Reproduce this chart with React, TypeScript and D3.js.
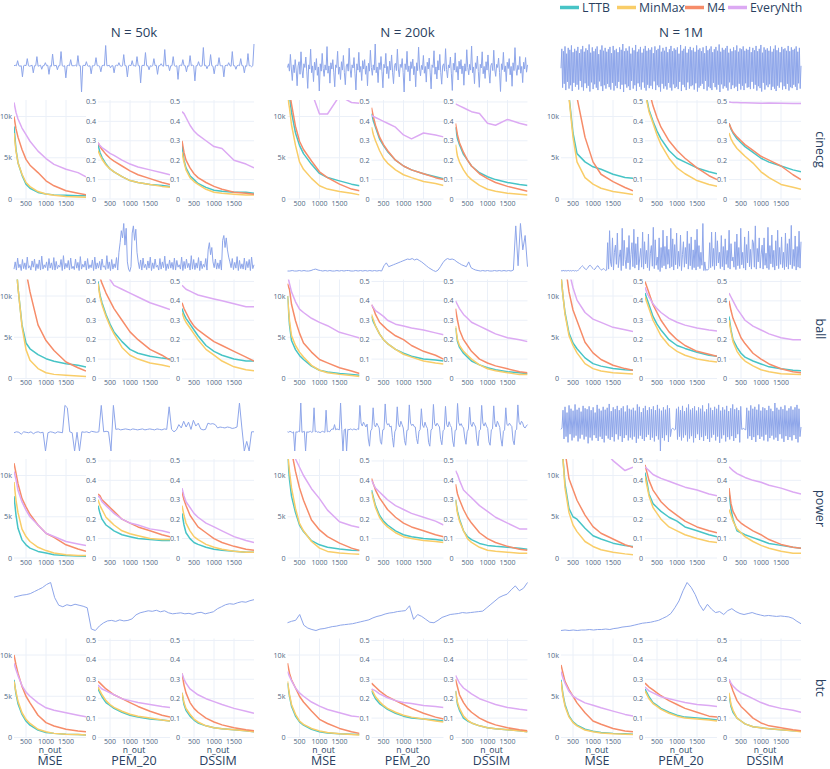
import React from "react";
import * as d3 from "d3";

// ---------- categories / labels ----------
const N_OUT = [200, 250, 300, 400, 500, 600, 800, 1000, 1200, 1500, 1800, 2000];
const ALGOS = ["LTTB", "MinMax", "M4", "EveryNth"];
const ALGO_COLORS = ["#47c4c6", "#f9cd68", "#f68c69", "#dca9f3"];
const SIZES = ["N = 50k", "N = 200k", "N = 1M"];
const DATASETS = ["cinecg", "ball", "power", "btc"];
const METRICS = ["MSE", "PEM_20", "DSSIM"];
const MSE_TICKS = [0, 5, 10];
const RATIO_TICKS = [0, 0.1, 0.2, 0.3, 0.4, 0.5];
const X_TICKS = [500, 1000, 1500];

// ---------- metric curves (order: LTTB, MinMax, M4, EveryNth); MSE in thousands ----------
const CINECG_50K_MSE = [
  [8.8, 6.0, 4.4, 2.9, 1.8, 1.3, 0.8, 0.6, 0.5, 0.45, 0.4, 0.4],
  [8.0, 5.8, 4.4, 3.0, 2.0, 1.5, 0.9, 0.6, 0.45, 0.3, 0.25, 0.2],
  [10.0, 8.5, 7.5, 6.0, 4.8, 4.1, 3.2, 2.2, 1.6, 1.0, 0.7, 0.5],
  [11.7, 10.5, 9.7, 8.6, 7.8, 7.0, 5.8, 4.9, 4.2, 3.6, 3.2, 2.7],
];
const CINECG_50K_PEM = [
  [0.28, 0.24, 0.215, 0.18, 0.155, 0.14, 0.115, 0.095, 0.085, 0.075, 0.07, 0.065],
  [0.25, 0.225, 0.205, 0.175, 0.155, 0.14, 0.115, 0.095, 0.085, 0.075, 0.065, 0.06],
  [0.29, 0.27, 0.255, 0.23, 0.21, 0.195, 0.17, 0.145, 0.125, 0.105, 0.085, 0.075],
  [0.29, 0.275, 0.265, 0.25, 0.235, 0.225, 0.2, 0.18, 0.165, 0.15, 0.135, 0.125],
];
const CINECG_50K_DSSIM = [
  [0.28, 0.2, 0.16, 0.12, 0.1, 0.08, 0.06, 0.045, 0.04, 0.035, 0.035, 0.03],
  [0.24, 0.19, 0.15, 0.11, 0.09, 0.075, 0.05, 0.035, 0.03, 0.025, 0.02, 0.02],
  [0.3, 0.24, 0.2, 0.16, 0.13, 0.11, 0.085, 0.065, 0.05, 0.035, 0.03, 0.025],
  [0.45, 0.44, 0.42, 0.38, 0.35, 0.33, 0.3, 0.27, 0.26, 0.2, 0.18, 0.16],
];
const CINECG_200K_MSE = [
  [14, 12.5, 10.5, 8.0, 6.5, 5.5, 4.2, 3.1, 2.6, 2.2, 1.8, 1.6],
  [12.5, 11, 9.0, 6.5, 4.5, 3.6, 2.5, 1.6, 1.2, 0.9, 0.7, 0.5],
  [15, 13, 11.5, 8.8, 7.0, 6.0, 4.6, 3.3, 2.6, 1.8, 1.2, 1.0],
  [20, 18, 17, 16, 15, 14, 13, 10.3, 10.3, 12.5, 11.7, 11.6],
];
const CINECG_200K_PEM = [
  [0.44, 0.4, 0.37, 0.31, 0.275, 0.245, 0.2, 0.17, 0.15, 0.13, 0.115, 0.105],
  [0.37, 0.33, 0.3, 0.25, 0.21, 0.185, 0.15, 0.125, 0.11, 0.09, 0.08, 0.07],
  [0.47, 0.42, 0.38, 0.32, 0.28, 0.25, 0.2, 0.17, 0.15, 0.13, 0.11, 0.1],
  [0.43, 0.425, 0.42, 0.41, 0.4, 0.39, 0.37, 0.33, 0.31, 0.34, 0.33, 0.32],
];
const CINECG_200K_DSSIM = [
  [0.37, 0.31, 0.28, 0.23, 0.2, 0.17, 0.135, 0.115, 0.1, 0.085, 0.075, 0.07],
  [0.28, 0.22, 0.19, 0.15, 0.12, 0.1, 0.07, 0.05, 0.04, 0.03, 0.025, 0.02],
  [0.39, 0.33, 0.29, 0.24, 0.2, 0.17, 0.13, 0.105, 0.085, 0.065, 0.05, 0.04],
  [0.49, 0.485, 0.48, 0.47, 0.46, 0.45, 0.44, 0.39, 0.38, 0.41, 0.39, 0.38],
];
const CINECG_1M_MSE = [
  [30, 22, 17, 12.5, 8.0, 5.5, 4.5, 3.9, 3.6, 3.0, 2.6, 2.5],
  [30, 22, 17, 12.3, 7.5, 4.5, 2.6, 1.8, 1.3, 0.9, 0.7, 0.55],
  [40, 32, 27, 20, 15, 12.3, 7.5, 4.5, 3.0, 2.1, 1.4, 1.0],
  [50, 48, 46, 45, 44, 43, 42, 41, 40, 39, 38, 37],
];
const CINECG_1M_PEM = [
  [0.56, 0.51, 0.46, 0.4, 0.35, 0.31, 0.25, 0.21, 0.19, 0.16, 0.14, 0.13],
  [0.55, 0.5, 0.45, 0.39, 0.33, 0.28, 0.21, 0.16, 0.13, 0.095, 0.075, 0.065],
  [0.75, 0.65, 0.56, 0.48, 0.42, 0.37, 0.3, 0.25, 0.21, 0.16, 0.12, 0.1],
  [0.8, 0.78, 0.76, 0.74, 0.72, 0.7, 0.68, 0.66, 0.64, 0.62, 0.6, 0.58],
];
const CINECG_1M_DSSIM = [
  [0.39, 0.36, 0.34, 0.31, 0.29, 0.27, 0.24, 0.21, 0.19, 0.17, 0.15, 0.14],
  [0.34, 0.31, 0.29, 0.26, 0.24, 0.22, 0.185, 0.14, 0.11, 0.075, 0.06, 0.05],
  [0.39, 0.365, 0.345, 0.32, 0.3, 0.28, 0.25, 0.22, 0.2, 0.17, 0.125, 0.1],
  [0.5, 0.498, 0.497, 0.497, 0.496, 0.496, 0.495, 0.493, 0.494, 0.493, 0.492, 0.492],
];

const BALL_50K_MSE = [
  [20, 14, 11, 6.5, 4.3, 3.6, 2.9, 2.4, 2.1, 1.8, 1.6, 1.4],
  [20, 14, 11, 6.3, 3.5, 2.2, 1.2, 0.7, 0.5, 0.4, 0.3, 0.25],
  [40, 30, 25, 18, 13, 10.5, 6.5, 4.6, 3.4, 2.0, 1.3, 0.9],
  [60, 55, 50, 45, 40, 36, 32, 28, 25, 22, 20, 18],
];
const BALL_50K_PEM = [
  [0.5, 0.43, 0.39, 0.33, 0.28, 0.24, 0.19, 0.15, 0.13, 0.115, 0.105, 0.1],
  [0.49, 0.42, 0.38, 0.32, 0.27, 0.23, 0.16, 0.12, 0.1, 0.08, 0.07, 0.06],
  [0.56, 0.52, 0.49, 0.44, 0.4, 0.36, 0.3, 0.24, 0.2, 0.15, 0.12, 0.095],
  [0.65, 0.6, 0.58, 0.55, 0.51, 0.48, 0.46, 0.44, 0.42, 0.39, 0.37, 0.355],
];
const BALL_50K_DSSIM = [
  [0.36, 0.33, 0.31, 0.28, 0.25, 0.22, 0.17, 0.14, 0.12, 0.1, 0.09, 0.09],
  [0.34, 0.31, 0.29, 0.26, 0.23, 0.2, 0.15, 0.12, 0.09, 0.06, 0.045, 0.04],
  [0.39, 0.36, 0.34, 0.3, 0.27, 0.25, 0.22, 0.19, 0.17, 0.14, 0.11, 0.09],
  [0.48, 0.47, 0.46, 0.45, 0.44, 0.43, 0.42, 0.41, 0.4, 0.385, 0.37, 0.37],
];
const BALL_200K_MSE = [
  [10, 6.5, 4.6, 3.5, 2.8, 2.3, 1.5, 1.0, 0.8, 0.6, 0.5, 0.4],
  [10, 7.0, 5.2, 4.0, 3.2, 2.6, 1.6, 1.0, 0.7, 0.5, 0.35, 0.25],
  [11.5, 10.8, 9.0, 7.0, 5.5, 4.3, 3.2, 2.3, 1.9, 1.3, 0.9, 0.6],
  [12.5, 11.5, 10.5, 9.3, 8.4, 8.0, 7.3, 6.8, 6.4, 5.6, 5.2, 4.9],
];
const BALL_200K_PEM = [
  [0.32, 0.29, 0.27, 0.23, 0.2, 0.18, 0.15, 0.13, 0.115, 0.1, 0.095, 0.09],
  [0.33, 0.3, 0.27, 0.23, 0.2, 0.18, 0.15, 0.125, 0.11, 0.09, 0.08, 0.075],
  [0.38, 0.36, 0.33, 0.29, 0.27, 0.25, 0.22, 0.2, 0.17, 0.14, 0.12, 0.1],
  [0.38, 0.365, 0.35, 0.335, 0.32, 0.3, 0.28, 0.27, 0.26, 0.25, 0.235, 0.225],
];
const BALL_200K_DSSIM = [
  [0.26, 0.19, 0.16, 0.13, 0.11, 0.09, 0.07, 0.055, 0.045, 0.035, 0.03, 0.025],
  [0.27, 0.2, 0.17, 0.14, 0.12, 0.1, 0.07, 0.05, 0.04, 0.03, 0.02, 0.02],
  [0.36, 0.3, 0.25, 0.2, 0.17, 0.14, 0.1, 0.08, 0.065, 0.05, 0.035, 0.03],
  [0.4, 0.38, 0.36, 0.33, 0.31, 0.29, 0.27, 0.25, 0.23, 0.21, 0.2, 0.19],
];
const BALL_1M_MSE = [
  [12.5, 10, 8.0, 5.5, 4.3, 3.6, 2.5, 1.8, 1.5, 1.2, 1.05, 1.0],
  [12.5, 10, 7.8, 5.2, 4.0, 3.1, 1.8, 1.2, 0.9, 0.7, 0.6, 0.55],
  [25, 18, 14, 10.5, 8.3, 7.0, 4.4, 3.1, 2.3, 1.6, 1.2, 1.0],
  [20, 17, 15, 13, 11.0, 9.5, 8.0, 7.2, 6.8, 6.2, 5.9, 5.7],
];
const BALL_1M_PEM = [
  [0.44, 0.41, 0.38, 0.32, 0.28, 0.25, 0.2, 0.17, 0.155, 0.135, 0.12, 0.115],
  [0.42, 0.39, 0.36, 0.3, 0.26, 0.22, 0.17, 0.14, 0.12, 0.1, 0.09, 0.085],
  [0.5, 0.47, 0.44, 0.38, 0.34, 0.3, 0.24, 0.2, 0.17, 0.14, 0.125, 0.115],
  [0.47, 0.44, 0.42, 0.385, 0.36, 0.34, 0.31, 0.29, 0.275, 0.26, 0.25, 0.245],
];
const BALL_1M_DSSIM = [
  [0.32, 0.25, 0.2, 0.16, 0.13, 0.11, 0.09, 0.075, 0.06, 0.05, 0.042, 0.04],
  [0.3, 0.24, 0.19, 0.14, 0.11, 0.09, 0.065, 0.045, 0.035, 0.025, 0.022, 0.02],
  [0.4, 0.35, 0.31, 0.26, 0.21, 0.18, 0.13, 0.1, 0.075, 0.05, 0.035, 0.03],
  [0.44, 0.42, 0.4, 0.36, 0.33, 0.3, 0.27, 0.25, 0.23, 0.21, 0.2, 0.2],
];

const POWER_50K_MSE = [
  [7.5, 5.2, 3.6, 2.2, 1.6, 1.2, 0.8, 0.6, 0.4, 0.3, 0.25, 0.2],
  [9.2, 7.0, 5.5, 3.5, 2.6, 2.0, 1.3, 0.9, 0.6, 0.4, 0.3, 0.3],
  [11.5, 10.3, 9.0, 7.2, 6.2, 5.3, 4.0, 3.0, 2.5, 1.6, 1.1, 0.8],
  [10.5, 9.5, 8.2, 6.8, 5.8, 5.0, 4.0, 3.0, 2.6, 2.0, 1.7, 1.5],
];
const POWER_50K_PEM = [
  [0.27, 0.23, 0.2, 0.17, 0.155, 0.14, 0.12, 0.11, 0.1, 0.095, 0.09, 0.09],
  [0.3, 0.27, 0.25, 0.21, 0.19, 0.17, 0.14, 0.125, 0.115, 0.1, 0.095, 0.095],
  [0.33, 0.32, 0.3, 0.28, 0.26, 0.24, 0.2, 0.18, 0.16, 0.14, 0.12, 0.11],
  [0.32, 0.31, 0.29, 0.27, 0.25, 0.23, 0.2, 0.18, 0.17, 0.15, 0.14, 0.13],
];
const POWER_50K_DSSIM = [
  [0.23, 0.17, 0.13, 0.1, 0.08, 0.07, 0.055, 0.045, 0.04, 0.035, 0.03, 0.03],
  [0.27, 0.22, 0.18, 0.14, 0.11, 0.095, 0.07, 0.055, 0.045, 0.035, 0.03, 0.03],
  [0.34, 0.3, 0.27, 0.22, 0.19, 0.16, 0.13, 0.1, 0.08, 0.06, 0.045, 0.04],
  [0.36, 0.32, 0.29, 0.26, 0.23, 0.21, 0.18, 0.16, 0.14, 0.11, 0.09, 0.08],
];
const POWER_200K_MSE = [
  [12.5, 9.5, 7.5, 5.5, 4.0, 3.2, 2.1, 1.6, 1.3, 1.1, 0.95, 0.9],
  [13, 10.5, 8.5, 6.0, 4.2, 3.3, 2.0, 1.2, 0.8, 0.6, 0.5, 0.45],
  [20, 16, 13, 10.5, 8.5, 7.0, 4.6, 3.4, 2.6, 1.8, 1.2, 0.9],
  [20, 16, 13.5, 12, 11, 10, 8.4, 7.2, 5.8, 4.4, 3.9, 3.7],
];
const POWER_200K_PEM = [
  [0.35, 0.31, 0.27, 0.22, 0.19, 0.17, 0.14, 0.12, 0.11, 0.1, 0.095, 0.09],
  [0.34, 0.3, 0.26, 0.21, 0.18, 0.16, 0.13, 0.11, 0.1, 0.09, 0.085, 0.08],
  [0.41, 0.38, 0.35, 0.31, 0.28, 0.25, 0.21, 0.18, 0.16, 0.14, 0.12, 0.11],
  [0.4, 0.38, 0.36, 0.34, 0.32, 0.3, 0.27, 0.25, 0.23, 0.21, 0.19, 0.17],
];
const POWER_200K_DSSIM = [
  [0.3, 0.24, 0.2, 0.14, 0.11, 0.095, 0.075, 0.065, 0.06, 0.055, 0.05, 0.045],
  [0.3, 0.23, 0.19, 0.14, 0.1, 0.08, 0.055, 0.04, 0.035, 0.03, 0.025, 0.025],
  [0.38, 0.33, 0.3, 0.25, 0.21, 0.18, 0.13, 0.1, 0.08, 0.06, 0.045, 0.04],
  [0.45, 0.43, 0.4, 0.35, 0.33, 0.31, 0.27, 0.24, 0.21, 0.18, 0.15, 0.15],
];
const POWER_1M_MSE = [
  [16, 12, 9.0, 6.0, 5.0, 4.7, 3.6, 2.7, 2.3, 1.8, 1.5, 1.4],
  [16, 12, 8.5, 5.5, 4.0, 3.2, 2.0, 1.4, 1.0, 0.7, 0.5, 0.4],
  [25, 17, 13, 9.6, 8.3, 7.0, 5.2, 3.8, 3.0, 2.3, 1.6, 1.3],
  [40, 35, 30, 27, 24, 21, 17, 15, 13.5, 11.8, 10.6, 11.0],
];
const POWER_1M_PEM = [
  [0.44, 0.39, 0.33, 0.28, 0.26, 0.24, 0.21, 0.19, 0.16, 0.14, 0.12, 0.11],
  [0.42, 0.37, 0.32, 0.26, 0.23, 0.2, 0.16, 0.14, 0.12, 0.1, 0.085, 0.08],
  [0.48, 0.44, 0.4, 0.35, 0.32, 0.29, 0.25, 0.22, 0.19, 0.16, 0.14, 0.13],
  [0.47, 0.46, 0.45, 0.43, 0.42, 0.41, 0.395, 0.38, 0.365, 0.35, 0.33, 0.32],
];
const POWER_1M_DSSIM = [
  [0.34, 0.25, 0.2, 0.14, 0.13, 0.12, 0.105, 0.09, 0.075, 0.065, 0.055, 0.05],
  [0.25, 0.22, 0.19, 0.15, 0.13, 0.11, 0.085, 0.065, 0.05, 0.035, 0.025, 0.025],
  [0.36, 0.28, 0.24, 0.2, 0.18, 0.165, 0.14, 0.12, 0.095, 0.07, 0.055, 0.05],
  [0.47, 0.46, 0.45, 0.435, 0.425, 0.415, 0.4, 0.39, 0.375, 0.36, 0.34, 0.33],
];

const BTC_50K_MSE = [
  [7.0, 5.3, 4.1, 2.8, 2.0, 1.5, 0.9, 0.6, 0.5, 0.4, 0.35, 0.3],
  [6.8, 5.5, 4.4, 3.0, 2.2, 1.7, 1.0, 0.7, 0.5, 0.4, 0.35, 0.3],
  [10, 8.8, 7.8, 6.2, 5.0, 4.2, 2.7, 1.8, 1.4, 1.0, 0.8, 0.7],
  [9.0, 8.2, 7.5, 6.3, 5.5, 5.0, 4.2, 3.6, 3.3, 3.0, 2.7, 2.5],
];
const BTC_50K_PEM = [
  [0.25, 0.23, 0.21, 0.18, 0.165, 0.15, 0.13, 0.115, 0.105, 0.095, 0.09, 0.085],
  [0.26, 0.24, 0.22, 0.19, 0.17, 0.155, 0.135, 0.12, 0.11, 0.1, 0.09, 0.085],
  [0.29, 0.28, 0.27, 0.25, 0.235, 0.22, 0.2, 0.18, 0.16, 0.135, 0.115, 0.105],
  [0.27, 0.26, 0.25, 0.24, 0.23, 0.22, 0.2, 0.19, 0.18, 0.17, 0.16, 0.155],
];
const BTC_50K_DSSIM = [
  [0.23, 0.17, 0.14, 0.11, 0.09, 0.075, 0.06, 0.05, 0.045, 0.04, 0.035, 0.03],
  [0.23, 0.18, 0.15, 0.12, 0.095, 0.08, 0.06, 0.05, 0.045, 0.04, 0.035, 0.03],
  [0.33, 0.27, 0.23, 0.18, 0.15, 0.13, 0.1, 0.08, 0.065, 0.05, 0.04, 0.035],
  [0.33, 0.3, 0.28, 0.25, 0.235, 0.22, 0.2, 0.185, 0.17, 0.15, 0.135, 0.125],
];
const BTC_200K_MSE = [
  [6.6, 5.0, 3.8, 2.6, 1.9, 1.5, 1.0, 0.7, 0.55, 0.45, 0.4, 0.35],
  [6.8, 5.2, 4.0, 2.8, 2.0, 1.6, 1.1, 0.8, 0.6, 0.45, 0.35, 0.3],
  [9.0, 7.8, 7.0, 6.0, 5.0, 4.3, 3.2, 2.2, 1.7, 1.1, 0.7, 0.5],
  [8.0, 7.4, 6.9, 6.0, 5.4, 5.0, 4.3, 3.8, 3.4, 3.0, 2.6, 2.5],
];
const BTC_200K_PEM = [
  [0.24, 0.22, 0.2, 0.175, 0.16, 0.145, 0.125, 0.11, 0.1, 0.095, 0.09, 0.085],
  [0.25, 0.23, 0.21, 0.185, 0.165, 0.15, 0.13, 0.115, 0.105, 0.095, 0.085, 0.08],
  [0.28, 0.27, 0.26, 0.24, 0.225, 0.21, 0.19, 0.17, 0.15, 0.125, 0.105, 0.095],
  [0.25, 0.245, 0.24, 0.225, 0.215, 0.205, 0.19, 0.18, 0.175, 0.165, 0.16, 0.155],
];
const BTC_200K_DSSIM = [
  [0.24, 0.17, 0.14, 0.1, 0.085, 0.075, 0.06, 0.05, 0.045, 0.04, 0.035, 0.03],
  [0.24, 0.18, 0.15, 0.11, 0.09, 0.075, 0.06, 0.05, 0.045, 0.04, 0.035, 0.03],
  [0.3, 0.26, 0.22, 0.18, 0.15, 0.13, 0.1, 0.08, 0.065, 0.05, 0.04, 0.035],
  [0.32, 0.3, 0.28, 0.255, 0.24, 0.225, 0.2, 0.185, 0.17, 0.155, 0.145, 0.14],
];
const BTC_1M_MSE = [
  [7.0, 5.2, 4.0, 2.6, 1.9, 1.5, 1.0, 0.75, 0.6, 0.5, 0.45, 0.4],
  [6.8, 5.0, 3.8, 2.5, 1.8, 1.4, 0.9, 0.7, 0.55, 0.45, 0.4, 0.35],
  [8.8, 7.8, 6.8, 5.8, 5.0, 4.2, 3.0, 2.0, 1.6, 1.1, 0.8, 0.7],
  [8.0, 7.2, 6.6, 5.6, 5.0, 4.7, 4.2, 3.9, 3.6, 3.2, 2.8, 2.6],
];
const BTC_1M_PEM = [
  [0.25, 0.23, 0.21, 0.18, 0.165, 0.15, 0.13, 0.115, 0.105, 0.1, 0.095, 0.09],
  [0.24, 0.22, 0.2, 0.175, 0.16, 0.145, 0.125, 0.11, 0.1, 0.095, 0.09, 0.085],
  [0.28, 0.27, 0.26, 0.245, 0.23, 0.215, 0.19, 0.17, 0.15, 0.13, 0.11, 0.105],
  [0.26, 0.25, 0.24, 0.23, 0.22, 0.21, 0.2, 0.19, 0.18, 0.17, 0.165, 0.16],
];
const BTC_1M_DSSIM = [
  [0.22, 0.16, 0.13, 0.1, 0.085, 0.07, 0.055, 0.05, 0.045, 0.04, 0.035, 0.035],
  [0.23, 0.17, 0.14, 0.1, 0.085, 0.07, 0.055, 0.05, 0.045, 0.04, 0.035, 0.03],
  [0.3, 0.27, 0.24, 0.19, 0.16, 0.14, 0.1, 0.075, 0.06, 0.05, 0.04, 0.035],
  [0.3, 0.28, 0.265, 0.245, 0.23, 0.22, 0.2, 0.18, 0.165, 0.15, 0.14, 0.13],
];

// ---------- raw signal previews (relative units) ----------
const SIG_CINECG_50K = [
  52,53,52,62,52,51,52,30,52,53, 52,66,52,51,52,53,38,52,52,70, 51,52,53,45,52,52,58,52,53,35,
  52,51,75,52,52,53,44,52,52,80, 52,51,52,28,52,53,52,64,52,52, 52,53,51,72,52,52,0,52,53,52,
  60,52,51,52,36,52,52,53,68,52, 52,51,40,52,53,52,92,52,52,53, 48,52,52,38,52,53,52,58,52,51,
  52,74,52,52,30,52,53,52,62,52, 52,51,70,52,52,18,52,53,52,78, 52,52,44,52,51,52,66,52,53,35,
  52,52,56,52,51,84,52,52,53,42, 52,52,70,52,51,52,25,52,53,52, 64,52,52,40,52,51,72,52,53,52,
  22,52,52,60,52,51,52,88,52,53, 46,52,52,74,52,51,36,52,53,52, 68,52,52,52,30,52,53,52,58,52,
  51,80,52,52,45,52,53,52,66,52, 52,38,52,51,76,52,52,50,52,95,
];
const SIG_CINECG_200K = [
  55,62,48,80,52,30,60,45,70,50, 20,58,66,42,85,50,35,62,55,75, 48,15,60,52,90,45,58,28,65,50,
  72,40,56,10,62,48,82,53,38,60, 50,95,44,58,25,64,52,70,46,18, 60,55,86,42,56,32,66,50,78,45,
  22,58,62,48,92,52,36,60,54,74, 44,12,62,50,84,46,57,30,68,52, 70,42,58,20,63,48,88,55,40,60,
  50,100,45,56,26,64,51,76,47,16, 61,54,82,43,57,34,67,50,79,46, 24,59,63,49,90,52,37,61,55,72,
  45,8,62,51,86,47,58,29,66,53, 71,41,57,18,64,49,94,54,39,59, 51,78,44,57,27,65,52,73,46,14,
  60,55,87,42,56,33,68,50,80,45, 23,58,62,48,91,51,35,60,54,75, 44,11,63,50,83,46,57,31,67,52,
  70,43,58,21,62,48,89,55,41,61, 50,96,45,56,24,64,53,77,47,17, 61,54,85,43,57,34,66,50,79,46,
  25,59,63,49,88,52,38,61,55,73, 45,9,62,51,84,47,58,28,65,53, 72,41,57,19,64,49,93,54,40,59,
  51,76,44,57,26,65,52,74,46,60,
];
const SIG_CINECG_1M = [
  50,90,10,85,18,95,5,80,22,92, 8,88,15,97,3,83,20,90,12,86, 16,94,6,81,24,89,11,96,4,84,
  19,91,9,87,14,99,2,82,21,93, 7,85,17,90,10,95,5,79,23,88, 13,97,3,86,15,92,8,84,18,89,
  11,94,6,81,20,96,4,87,14,90, 9,83,22,93,7,88,16,100,1,85, 17,91,10,86,13,95,5,80,24,92,
  8,87,15,98,3,84,19,89,12,94, 6,82,21,90,10,96,4,86,16,91, 9,88,14,93,7,81,23,95,5,87,
  15,90,11,97,2,84,18,92,8,86, 13,94,6,83,20,89,10,96,4,85, 17,91,9,88,12,93,7,80,22,98,
  3,86,16,90,11,95,5,82,21,89, 8,94,13,87,15,92,6,84,19,97, 2,88,10,91,14,85,18,93,7,81,
  24,96,4,87,12,90,9,95,5,83, 20,89,11,94,6,86,16,99,1,84, 17,92,8,88,13,91,10,96,4,82,
  21,90,7,85,15,93,9,87,12,97, 3,84,18,91,6,89,14,95,5,86, 19,90,10,88,11,94,7,83,22,92,
  8,87,16,96,4,85,13,90,9,98, 2,82,20,93,6,88,15,91,11,86, 17,95,5,84,12,90,8,97,3,87,
  14,92,10,83,21,94,6,89,13,91, 7,86,18,96,4,85,11,93,9,88, 16,90,12,95,5,84,19,92,8,55,
];
const SIG_BALL_50K = [
  5,20,3,28,8,15,2,25,6,18, 4,30,7,12,3,22,9,26,2,16, 6,24,3,32,5,14,8,20,2,27,
  7,18,4,29,3,21,6,13,9,25, 2,33,5,17,8,23,3,28,6,11, 4,26,7,19,2,31,5,15,9,22,
  3,27,6,14,8,24,2,30,5,18, 7,21,3,26,9,12,4,33,6,20, 2,25,5,16,8,29,3,40,60,85,
  70,100,55,90,20,5,0,10,80,95, 65,88,40,20,6,24,3,28,8,15, 4,22,7,30,2,18,6,26,9,13,
  3,27,5,20,8,32,2,16,6,24, 7,19,4,28,3,23,9,14,5,30, 2,21,6,26,8,17,3,33,5,25,
  4,18,7,29,2,22,6,15,9,27, 3,45,60,35,50,20,8,26,5,18, 6,24,3,65,75,50,70,45,30,20,
  8,27,4,19,7,31,2,23,6,16, 5,28,3,21,8,25,2,30,6,14,
];
const SIG_BALL_200K = [1,1,2,1,1,2,1,2,1,1,2,4,5,3,2,1,2,1,2,1,1,2,1,2,1,2,2,1,1,2,1,2,1,2,1,2,1,2,1,2,1,12,18,10,12,14,16,18,20,22,24,26,25,27,24,26,23,20,16,12,8,5,2,0,3,10,18,24,27,25,26,24,20,17,14,12,10,20,8,5,3,2,1,2,1,2,1,1,2,1,2,1,2,1,2,1,3,95,12,100,45,75,10];
const SIG_BALL_1M = [
  2,1,2,2,1,2,1,2,2,1, 2,1,2,2,1,2,1,2,3,5, 8,10,12,10,7,5,4,6,9,12, 13,11,8,6,4,5,8,11,12,9, 6,4,3,5,6,4,2,3,
  60,5,85,20,10,70,3,40,55,15, 80,8,30,45,2,90,12,65,25,6, 50,18,75,4,35,60,10,88,7,58,
  14,72,3,28,48,9,82,5,62,16, 44,8,78,2,38,54,11,92,6,66, 13,30,4,70,0,50,8,86,12,52,
  5,74,15,46,7,90,10,68,3,56, 14,80,6,42,11,76,2,35,62,9, 50,16,84,5,58,12,72,4,45,8,
  66,3,88,10,54,6,40,13,100,2, 20,2,4,3,6,60,8,82,11,48, 4,82,12,64,18,40,6,75,10,52,
  3,68,15,44,8,86,5,58,22,30, 9,62,4,78,12,50,6,90,14,40, 7,72,3,56,18,84,10,46,5,66,
  60,9,95,5,48,20,70,7,36,55, 5,70,13,38,7,92,4,54,16,76, 9,44,3,64,12,86,6,50,15,72,
  8,40,4,80,10,58,5,68,14,96, 6,46,11,74,3,52,9,84,7,62,
];
const SIG_POWER_50K = [38,40,39,35,40,39,38,40,36,39,40,38,39,0,38,40,39,37,40,39,38,95,90,40,38,0,39,0,40,39,40,38,41,40,39,40,95,40,41,40,0,95,45,46,44,45,46,45,44,46,45,44,45,46,44,45,46,45,44,46,45,44,46,45,92,45,40,44,55,48,62,50,60,45,64,52,58,46,44,45,58,56,57,55,48,50,49,48,50,49,47,48,50,100,48,0,20,0,40,40];
const SIG_POWER_200K = [
  40,39,41,40,38,40,0,40,39,41, 40,100,39,40,41,0,40,39,40,41, 39,40,90,40,41,39,40,38,40,41,
  40,39,85,40,41,40,44,46,45,55, 44,46,45,44,100,45,0,44,46,0, 45,44,46,45,44,46,45,44,46,45,
  95,58,52,60,55,50,56,25,10,42, 46,90,55,50,58,53,48,20,14,44, 45,98,60,54,57,50,52,28,8,40,
  46,92,56,50,62,55,48,22,12,43, 44,96,58,53,56,51,50,26,15,41, 45,88,54,49,60,52,47,18,10,44,
  46,97,57,52,58,54,50,24,13,42, 45,93,55,50,61,53,49,21,9,43, 44,99,59,53,57,51,48,27,14,40,
  46,91,56,51,60,55,50,23,11,42, 45,95,58,52,59,52,47,19,12,44, 46,94,57,50,62,56,49,25,10,41,
  44,90,55,53,58,54,51,22,13,43, 45,96,60,55,62,58,50,48,52,55,
];
const SIG_POWER_1M = [
  45,48,85,25,92,30,80,18,95,35, 88,22,84,28,97,32,86,20,90,26, 82,34,94,24,89,30,87,16,93,28,
  85,22,91,33,80,27,96,21,88,30, 84,25,92,18,86,32,90,26,98,23, 83,29,91,20,87,35,94,24,85,31,
  89,19,93,27,82,33,95,22,88,28, 86,24,90,30,84,17,97,26,92,32, 81,25,89,21,94,29,85,34,91,23,
  87,28,93,20,85,31,96,24,88,0, 84,27,91,22,86,33,95,19,89,30, 45,47,46,44,45,88,24,92,30,85,
  22,94,28,83,33,90,20,97,26,86, 31,89,18,93,27,84,35,91,23,88, 29,95,21,82,32,87,25,99,19,90,
  28,85,34,92,22,88,30,96,17,84, 26,91,33,86,20,94,29,83,24,89, 31,97,21,87,27,90,35,85,18,93,
  45,46,47,45,44,90,26,84,31,95, 23,88,29,92,19,86,33,97,25,84, 30,91,22,89,34,85,20,94,27,88,
  32,83,24,100,28,90,21,86,35,92, 26,87,19,95,31,84,23,89,29,93, 22,86,33,91,25,96,18,88,30,50,
];
const SIG_BTC_50K = [71,73,75,76,78,82,86,90,96,100,70,55,52,56,54,57,55,53,50,8,5,14,20,24,25,23,26,24,25,28,36,40,42,44,43,45,42,44,40,38,39,40,38,39,37,40,41,38,40,42,48,52,56,58,57,60,62,61,64,66];
const SIG_BTC_200K = [17,20,22,34,12,6,3,1,4,5,7,9,10,12,13,14,15,17,19,21,23,27,30,32,35,37,38,40,41,42,52,24,34,30,24,18,17,22,28,31,34,35,36,38,37,38,39,40,41,48,55,62,69,73,76,85,93,83,88,100];
const SIG_BTC_1M = [1,2,1,2,1,2,2,3,2,3,3,4,3,5,6,8,9,10,12,14,16,17,18,20,22,26,30,36,48,62,83,100,90,75,55,42,55,45,38,40,34,42,46,40,36,34,36,38,35,33,31,32,31,30,31,30,29,26,20,15];

// ---------- assembly tables ----------
const METRIC_TABLE = [
  [[CINECG_50K_MSE, CINECG_50K_PEM, CINECG_50K_DSSIM], [CINECG_200K_MSE, CINECG_200K_PEM, CINECG_200K_DSSIM], [CINECG_1M_MSE, CINECG_1M_PEM, CINECG_1M_DSSIM]],
  [[BALL_50K_MSE, BALL_50K_PEM, BALL_50K_DSSIM], [BALL_200K_MSE, BALL_200K_PEM, BALL_200K_DSSIM], [BALL_1M_MSE, BALL_1M_PEM, BALL_1M_DSSIM]],
  [[POWER_50K_MSE, POWER_50K_PEM, POWER_50K_DSSIM], [POWER_200K_MSE, POWER_200K_PEM, POWER_200K_DSSIM], [POWER_1M_MSE, POWER_1M_PEM, POWER_1M_DSSIM]],
  [[BTC_50K_MSE, BTC_50K_PEM, BTC_50K_DSSIM], [BTC_200K_MSE, BTC_200K_PEM, BTC_200K_DSSIM], [BTC_1M_MSE, BTC_1M_PEM, BTC_1M_DSSIM]],
];
const SIGNAL_TABLE = [
  [SIG_CINECG_50K, SIG_CINECG_200K, SIG_CINECG_1M],
  [SIG_BALL_50K, SIG_BALL_200K, SIG_BALL_1M],
  [SIG_POWER_50K, SIG_POWER_200K, SIG_POWER_1M],
  [SIG_BTC_50K, SIG_BTC_200K, SIG_BTC_1M],
];

// ---------- layout ----------
const W = 830;
const H = 769;
const COL_X = [14, 287.5, 561];
const GROUP_W = 240;
const SUB_W = 72;
const SUB_STEP = 84;
const ROW_Y0 = 44;
const ROW_STEP = 179.5;
const SIG_H = 48;
const MET_OFF = 56;
const MET_H = 99;
const FONT = "'Open Sans', verdana, arial, sans-serif";
const TEXT = "#2a3f5f";
const TICK = "#506784";
const GRID = "#ebf0f8";
const SIGNAL_COLOR = "#8ea6ea";

function MetricPlot({ id, x0, y0, series, metric }: any) {
  const isMse = metric === "MSE";
  const xs = d3.scaleLinear().domain(d3.extent(N_OUT) as [number, number]).range([x0, x0 + SUB_W]);
  const ys = d3.scaleLinear().domain(isMse ? [0, 12] : [0, 0.51]).range([y0 + MET_H, y0]);
  const yTicks = isMse ? MSE_TICKS : RATIO_TICKS;
  const fmt = (v: number) => (v === 0 ? "0" : isMse ? `${v}k` : d3.format(".1f")(v));
  const line = d3
    .line<number>()
    .x((_, i) => xs(N_OUT[i]))
    .y((d) => ys(d));
  return (
    <g>
      <defs>
        <clipPath id={id}>
          <rect x={x0} y={y0} width={SUB_W} height={MET_H} />
        </clipPath>
      </defs>
      {X_TICKS.map((t) => (
        <line key={"gx" + t} x1={xs(t)} x2={xs(t)} y1={y0} y2={y0 + MET_H} stroke={GRID} strokeWidth={1} />
      ))}
      {yTicks.map((t) => (
        <line key={"gy" + t} x1={x0} x2={x0 + SUB_W} y1={ys(t)} y2={ys(t)} stroke={GRID} strokeWidth={1} />
      ))}
      {yTicks.map((t) => (
        <text key={"ty" + t} x={x0 - 2} y={ys(t)} dy="0.35em" textAnchor="end" fontSize={7.2} fill={TICK} fontFamily={FONT}>
          {fmt(t)}
        </text>
      ))}
      {X_TICKS.map((t) => (
        <text key={"tx" + t} x={xs(t)} y={y0 + MET_H + 6.6} textAnchor="middle" fontSize={7} fill={TICK} fontFamily={FONT}>
          {t}
        </text>
      ))}
      <g clipPath={`url(#${id})`}>
        {series.map((s: number[], k: number) => (
          <path key={k} d={line(s) || ""} fill="none" stroke={ALGO_COLORS[k]} strokeWidth={1.5} strokeLinejoin="round" />
        ))}
      </g>
    </g>
  );
}

function SignalPlot({ x0, y0, values }: any) {
  const xs = d3.scaleLinear().domain([0, values.length - 1]).range([x0, x0 + GROUP_W]);
  const ys = d3.scaleLinear().domain(d3.extent(values) as [number, number]).range([y0 + SIG_H, y0]);
  const line = d3
    .line<number>()
    .x((_, i) => xs(i))
    .y((d) => ys(d));
  return <path d={line(values) || ""} fill="none" stroke={SIGNAL_COLOR} strokeWidth={1} strokeLinejoin="round" />;
}

export default function App() {
  const legendX = [560, 617, 685, 728];
  return (
    <div style={{ position: "absolute", left: 0, top: 0 }}>
      <svg width={W} height={H} style={{ display: "block", background: "#fff" }}>
        {ALGOS.map((a, k) => (
          <g key={a}>
            <line x1={legendX[k]} x2={legendX[k] + 19} y1={7.5} y2={7.5} stroke={ALGO_COLORS[k]} strokeWidth={3.5} />
            <text x={legendX[k] + 22} y={7.5} dy="0.35em" fontSize={12.3} fill={TEXT} fontFamily={FONT}>
              {a}
            </text>
          </g>
        ))}
        {SIZES.map((s, c) => (
          <text key={s} x={COL_X[c] + GROUP_W / 2} y={32} dy="0.35em" textAnchor="middle" fontSize={13.3} fill={TEXT} fontFamily={FONT}>
            {s}
          </text>
        ))}
        {DATASETS.map((ds, r) => {
          const rowTop = ROW_Y0 + r * ROW_STEP;
          const metTop = rowTop + MET_OFF;
          return (
            <g key={ds}>
              {SIZES.map((_, c) => (
                <g key={c}>
                  <SignalPlot x0={COL_X[c]} y0={rowTop} values={SIGNAL_TABLE[r][c]} />
                  {METRICS.map((m, j) => (
                    <MetricPlot
                      key={m}
                      id={`clip-${r}-${c}-${j}`}
                      x0={COL_X[c] + j * SUB_STEP}
                      y0={metTop}
                      series={METRIC_TABLE[r][c][j]}
                      metric={m}
                    />
                  ))}
                </g>
              ))}
              <text
                transform={`translate(820,${metTop + MET_H / 2}) rotate(90)`}
                textAnchor="middle"
                dy="0.35em"
                fontSize={12.5}
                fill={TEXT}
                fontFamily={FONT}
              >
                {ds}
              </text>
            </g>
          );
        })}
        {SIZES.map((_, c) =>
          METRICS.map((m, j) => {
            const cx = COL_X[c] + j * SUB_STEP + SUB_W / 2;
            return (
              <g key={`${c}-${m}`}>
                <text x={cx} y={750.5} dy="0.32em" textAnchor="middle" fontSize={8.6} fill={TEXT} fontFamily={FONT}>
                  n_out
                </text>
                <text x={cx} y={760.5} dy="0.35em" textAnchor="middle" fontSize={12.5} fill={TEXT} fontFamily={FONT}>
                  {m}
                </text>
              </g>
            );
          })
        )}
      </svg>
    </div>
  );
}
